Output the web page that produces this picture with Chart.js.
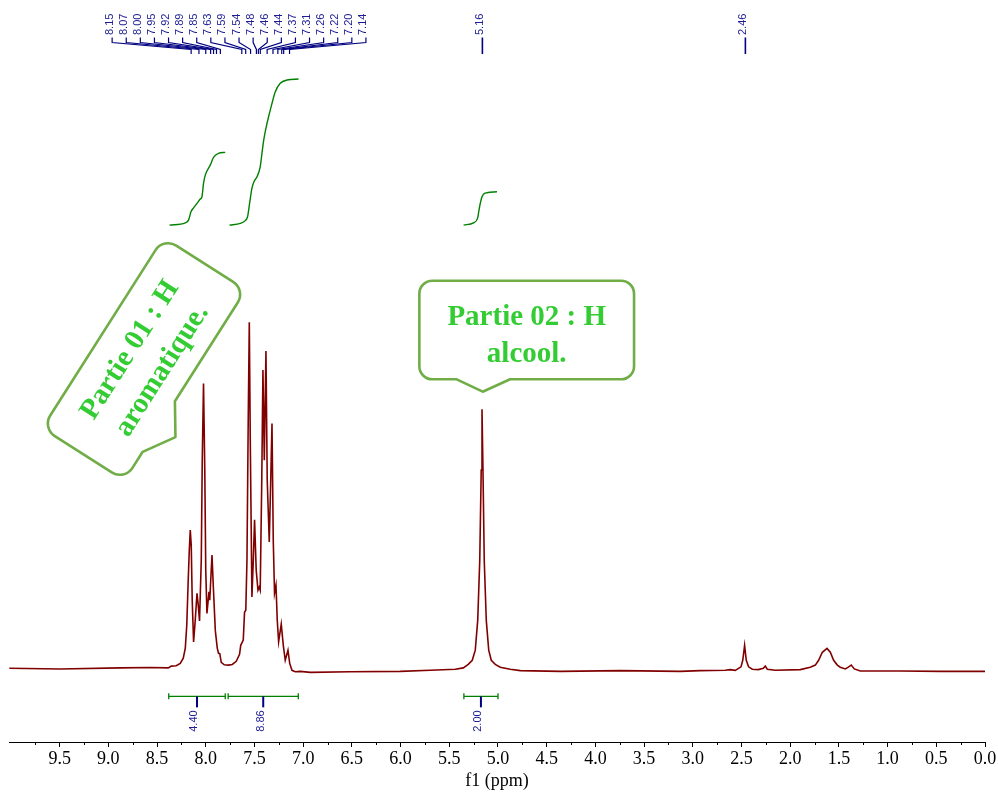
<!DOCTYPE html>
<html><head><meta charset="utf-8">
<script src="https://cdn.jsdelivr.net/npm/chart.js@4"></script>
<style>html,body{margin:0;padding:0;background:#fff;}canvas{display:block;}</style>
</head><body>
<canvas id="c" width="998" height="792"></canvas>
<script>
// ---------- DATA ----------
const spectrumPpm = [10.017, 9.494, 8.878, 8.570, 8.385, 8.354, 8.303, 8.262, 8.231, 8.210, 8.195, 8.180, 8.169, 8.159, 8.149, 8.139, 8.125, 8.108, 8.090, 8.077, 8.064, 8.046, 8.036, 8.023, 8.010, 8.000, 7.988, 7.967, 7.959, 7.936, 7.923, 7.902, 7.882, 7.869, 7.856, 7.841, 7.810, 7.766, 7.728, 7.687, 7.653, 7.641, 7.615, 7.602, 7.589, 7.577, 7.564, 7.553, 7.543, 7.526, 7.512, 7.499, 7.482, 7.464, 7.451, 7.441, 7.425, 7.413, 7.399, 7.382, 7.369, 7.348, 7.333, 7.320, 7.307, 7.294, 7.279, 7.266, 7.252, 7.225, 7.204, 7.184, 7.156, 7.138, 7.115, 7.081, 7.030, 6.927, 6.516, 6.003, 5.695, 5.438, 5.356, 5.305, 5.264, 5.233, 5.208, 5.187, 5.172, 5.164, 5.154, 5.141, 5.120, 5.095, 5.069, 5.028, 4.977, 4.874, 4.771, 4.360, 3.744, 3.128, 2.923, 2.666, 2.615, 2.564, 2.505, 2.487, 2.468, 2.451, 2.427, 2.389, 2.328, 2.276, 2.256, 2.235, 2.153, 1.896, 1.794, 1.742, 1.708, 1.670, 1.622, 1.588, 1.554, 1.516, 1.486, 1.434, 1.403, 1.373, 1.342, 1.280, 0.870, 0.459, 0.000];
const spectrumIntensity = [0.3, 0.1, 0.4, 0.5, 0.4, 0.9, 1.0, 1.7, 3.2, 6.1, 12.7, 25.7, 34.3, 40.1, 35.7, 19.9, 7.9, 14.1, 21.9, 18.4, 13.9, 31.4, 60.2, 82.3, 57.4, 28.5, 16.1, 22.3, 19.9, 32.9, 24.2, 11.2, 6.1, 4.6, 4.5, 2.0, 1.3, 1.2, 1.4, 2.3, 4.3, 6.9, 8.4, 16.4, 17.0, 31.4, 71.8, 100, 66.0, 20.8, 31.4, 43.1, 28.5, 22.8, 23.7, 22.8, 54.5, 86.2, 60.2, 91.7, 54.5, 36.7, 54.5, 70.8, 37.2, 21.9, 24.2, 14.1, 7.9, 13.0, 6.9, 2.6, 5.5, 1.7, -0.3, -0.7, -0.6, -0.9, -0.7, -0.6, -0.3, 0.0, 0.4, 1.4, 2.6, 5.5, 14.1, 31.4, 57.4, 74.9, 57.4, 31.4, 14.1, 5.5, 2.6, 1.4, 0.6, 0.0, -0.4, -0.6, -0.4, -0.6, -0.4, -0.3, -0.1, -0.3, 0.7, 2.6, 6.9, 2.6, 0.7, 0.0, -0.1, 0.3, 0.9, 0.0, -0.3, -0.1, 0.6, 1.2, 2.6, 4.9, 6.0, 4.9, 2.6, 1.2, 0.6, 0.1, 0.6, 1.2, 0.1, -0.5, -0.5, -0.6, -0.6];

const integral1Ppm = [8.372, 8.210, 8.177, 8.152, 8.125, 8.090, 8.056, 8.039, 8.023, 8.005, 7.954, 7.920, 7.869, 7.800];
const integral1Val = [127.95, 128.62, 129.39, 131.79, 132.94, 134.21, 135.45, 136.11, 139.97, 142.36, 145.24, 147.46, 148.62, 148.90];
const integral2Ppm = [7.756, 7.646, 7.594, 7.571, 7.550, 7.526, 7.502, 7.474, 7.441, 7.423, 7.405, 7.379, 7.355, 7.320, 7.286, 7.235, 7.166, 7.047];
const integral2Val = [127.95, 128.44, 129.25, 130.35, 134.21, 138.53, 140.63, 141.87, 144.76, 148.62, 152.45, 156.28, 159.16, 163.03, 166.37, 168.79, 169.74, 170.03];
const integral3Ppm = [5.353, 5.251, 5.210, 5.189, 5.164, 5.141, 5.113, 5.010];
const integral3Val = [127.95, 128.62, 129.88, 133.23, 136.11, 137.03, 137.26, 137.55];

const integralFrom = [8.38, 7.77, 5.35];
const integralTo = [7.80, 7.05, 5.00];
const integralLabels = ['4.40', '8.86', '2.00'];
const integralLevel = -7.8;

const aromaticPeaks = [8.15, 8.07, 8.00, 7.95, 7.92, 7.89, 7.85, 7.63, 7.59, 7.54, 7.48, 7.46, 7.44, 7.37, 7.31, 7.26, 7.22, 7.20, 7.14];
const singlePeaks = [5.16, 2.46];

const xMajorTicks = [0.0, 0.5, 1.0, 1.5, 2.0, 2.5, 3.0, 3.5, 4.0, 4.5, 5.0, 5.5, 6.0, 6.5, 7.0, 7.5, 8.0, 8.5, 9.0, 9.5];
const xMinorTicks = [0.25, 0.75, 1.25, 1.75, 2.25, 2.75, 3.25, 3.75, 4.25, 4.75, 5.25, 5.75, 6.25, 6.75, 7.25, 7.75, 8.25, 8.75, 9.25, 9.75];

const bubble1Lines = ['Partie 01 : H', 'aromatique.'];
const bubble2Lines = ['Partie 02 : H', 'alcool.'];

// ---------- STYLE ----------
const SERIF = '"Liberation Serif", "Times New Roman", serif';
const SANS = '"Liberation Sans", Arial, sans-serif';
const NAVY = '#000080';
const NAVY_TXT = '#1c1c94';
const GREEN_INT = '#008000';
const BUBBLE_BORDER = '#70AD47';
const BUBBLE_TEXT = '#33CC33';

const pts = (xs, ys) => xs.map((v, i) => ({x: v, y: ys[i]}));

function vertText(ctx, text, x, y, align) {
  ctx.save();
  ctx.translate(x, y);
  ctx.rotate(-Math.PI / 2);
  ctx.textAlign = align;
  ctx.textBaseline = 'alphabetic';
  ctx.fillText(text, 0, 0);
  ctx.restore();
}

function bubble(ctx, cx, cy, rot, w, h, r, pb1, pb2, tipX, tipY, lines, baselines) {
  ctx.save();
  ctx.translate(cx, cy);
  ctx.rotate(rot);
  const L = -w / 2, R = w / 2, T = -h / 2, B = h / 2;
  ctx.beginPath();
  ctx.moveTo(L + r, T);
  ctx.lineTo(R - r, T);
  ctx.arcTo(R, T, R, T + r, r);
  ctx.lineTo(R, B - r);
  ctx.arcTo(R, B, R - r, B, r);
  ctx.lineTo(pb2, B);
  ctx.lineTo(tipX, tipY);
  ctx.lineTo(pb1, B);
  ctx.lineTo(L + r, B);
  ctx.arcTo(L, B, L, B - r, r);
  ctx.lineTo(L, T + r);
  ctx.arcTo(L, T, L + r, T, r);
  ctx.closePath();
  ctx.fillStyle = '#fff';
  ctx.fill();
  ctx.lineWidth = 2.6;
  ctx.strokeStyle = BUBBLE_BORDER;
  ctx.lineJoin = 'round';
  ctx.stroke();
  ctx.fillStyle = BUBBLE_TEXT;
  ctx.font = 'bold 29px ' + SERIF;
  ctx.textAlign = 'center';
  ctx.textBaseline = 'alphabetic';
  lines.forEach((t, i) => ctx.fillText(t, 0, baselines[i]));
  ctx.restore();
}

const annotations = {
  id: 'annotations',
  afterDatasetsDraw(chart) {
    const {ctx, scales: {x, y}, chartArea} = chart;
    ctx.save();
    // minor ticks
    ctx.strokeStyle = '#000';
    ctx.lineWidth = 1;
    xMinorTicks.forEach(v => {
      const px = Math.round(x.getPixelForValue(v)) + 0.5;
      ctx.beginPath();
      ctx.moveTo(px, chartArea.bottom);
      ctx.lineTo(px, chartArea.bottom + 3);
      ctx.stroke();
    });

    // peak labels (aromatic multiplet)
    ctx.font = '11px ' + SANS;
    ctx.fillStyle = NAVY_TXT;
    ctx.strokeStyle = NAVY;
    ctx.lineWidth = 1.2;
    const n = aromaticPeaks.length, gap = 14.1;
    const pxs = aromaticPeaks.map(p => x.getPixelForValue(p));
    const c = (pxs[0] + pxs[n - 1]) / 2 - 1.3;
    pxs.forEach((px, i) => {
      const lx = c + (i - (n - 1) / 2) * gap;
      ctx.beginPath();
      ctx.moveTo(lx, 37.5);
      ctx.lineTo(lx, 42.5);
      ctx.lineTo(px, 49.5);
      ctx.lineTo(px, 54);
      ctx.stroke();
      vertText(ctx, aromaticPeaks[i].toFixed(2), lx + 0.5, 35, 'left');
    });
    singlePeaks.forEach(p => {
      const px = x.getPixelForValue(p);
      ctx.lineWidth = 1.6;
      ctx.beginPath();
      ctx.moveTo(px, 37.5);
      ctx.lineTo(px, 54);
      ctx.stroke();
      vertText(ctx, p.toFixed(2), px + 0.5, 35, 'left');
    });

    // integral brackets
    const by = y.getPixelForValue(integralLevel);
    integralFrom.forEach((f, i) => {
      const x1 = x.getPixelForValue(f), x2 = x.getPixelForValue(integralTo[i]);
      const xm = (x1 + x2) / 2;
      ctx.strokeStyle = GREEN_INT;
      ctx.lineWidth = 1.3;
      ctx.beginPath();
      ctx.moveTo(x1, by); ctx.lineTo(x2, by);
      ctx.moveTo(x1, by - 3); ctx.lineTo(x1, by + 3);
      ctx.moveTo(x2, by - 3); ctx.lineTo(x2, by + 3);
      ctx.stroke();
      ctx.strokeStyle = NAVY;
      ctx.lineWidth = 2;
      ctx.beginPath();
      ctx.moveTo(xm, by); ctx.lineTo(xm, by + 11);
      ctx.stroke();
      ctx.fillStyle = NAVY_TXT;
      vertText(ctx, integralLabels[i], xm + 0.5, by + 14, 'right');
    });

    // call-out bubbles
    bubble(ctx, 144, 359, -57.5 * Math.PI / 180, 226, 97.5, 15, -79, -19, -49, 68.5, bubble1Lines, [-9, 29]);
    bubble(ctx, 526.7, 330, 0, 214.7, 98.6, 13, -70, -16.6, -44, 61.7, bubble2Lines, [-5, 32]);
    ctx.restore();
  }
};

new Chart(document.getElementById('c'), {
  type: 'scatter',
  data: {
    datasets: [
      {data: pts(spectrumPpm, spectrumIntensity), showLine: true, borderColor: '#800000', borderWidth: 1.6, pointRadius: 0, tension: 0, clip: false},
      {data: pts(integral1Ppm, integral1Val), showLine: true, borderColor: GREEN_INT, borderWidth: 1.4, pointRadius: 0, cubicInterpolationMode: 'monotone', clip: false},
      {data: pts(integral2Ppm, integral2Val), showLine: true, borderColor: GREEN_INT, borderWidth: 1.4, pointRadius: 0, cubicInterpolationMode: 'monotone', clip: false},
      {data: pts(integral3Ppm, integral3Val), showLine: true, borderColor: GREEN_INT, borderWidth: 1.4, pointRadius: 0, cubicInterpolationMode: 'monotone', clip: false}
    ]
  },
  options: {
    responsive: false,
    devicePixelRatio: 1,
    animation: false,
    layout: {padding: {left: 9, right: 13, top: 0, bottom: 0}},
    plugins: {legend: {display: false}, tooltip: {enabled: false}},
    scales: {
      x: {
        type: 'linear', reverse: true, min: 0, max: 10.02,
        afterBuildTicks: s => { s.ticks = xMajorTicks.map(v => ({value: v})); },
        afterFit: s => { s.height = 50; },
        ticks: {autoSkip: false, maxRotation: 0, minRotation: 0, padding: 1, color: '#000',
          font: {family: SERIF, size: 18}, callback: v => Number(v).toFixed(1)},
        grid: {display: true, drawOnChartArea: false, drawTicks: true, tickLength: 5, tickColor: '#000', tickWidth: 1},
        border: {display: true, color: '#000', width: 1},
        title: {display: true, text: 'f1 (ppm)', color: '#000', font: {family: SERIF, size: 18}, padding: {top: 0, bottom: 0}}
      },
      y: {type: 'linear', display: false, min: -20.95, max: 192.8}
    }
  },
  plugins: [annotations]
});
</script>
</body></html>
